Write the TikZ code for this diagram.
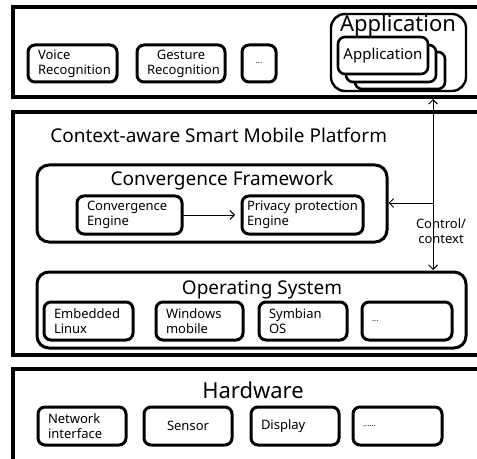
\documentclass[tikz,border=0pt]{standalone}
\usepackage{fontspec}
\setmainfont{Noto Sans}
\usepackage{tikz}
\usetikzlibrary{arrows.meta}

\newcommand{\boxfont}{\fontsize{13bp}{15bp}\selectfont}
\newcommand{\dotsfont}{\fontsize{8bp}{10bp}\selectfont}
\newcommand{\headfont}{\fontsize{19bp}{23bp}\selectfont}
\newcommand{\bigfont}{\fontsize{22bp}{26bp}\selectfont}
\newcommand{\cardfont}{\fontsize{15bp}{18bp}\selectfont}

\begin{document}
\begin{tikzpicture}[x=1bp,y=-1bp,
    every node/.style={outer sep=0pt},
    >={Straight Barb[length=4.5bp,width=9bp]},
    layer/.style={draw,line width=3.4bp,anchor=north west,minimum width=490bp},
    frame/.style={draw,line width=3bp,rounded corners=12bp,anchor=north west},
    unit/.style={draw,line width=3bp,rounded corners=7bp,anchor=north west,
      inner xsep=10bp,inner ysep=0pt,minimum height=38bp,align=left,font=\boxfont},
    card/.style={draw,fill=white,line width=2.6bp,rounded corners=7bp,anchor=north west,
      inner sep=0pt,minimum width=90bp,minimum height=37bp,font=\cardfont},
    link/.style={line width=0.9bp}]
\useasboundingbox (0,0) rectangle (477,459);
\clip (0,0) rectangle (477,459);

% application layer
\node[layer,minimum height=90bp] (applayer) at (13,7) {};
\node[unit,text width=69bp,minimum height=37bp] (voice) at (28,45) {Voice\\Recognition};
\node[unit,text width=68bp,minimum height=37bp,align=center] (gesture) at (137,45) {Gesture\\Recognition};
\node[unit,text width=14bp,minimum height=37bp,align=center,font=\dotsfont] (appdots) at (242,45) {...};
\node[frame,line width=2.4bp,rounded corners=14bp,minimum width=135bp,minimum height=77bp] (app) at (331,14) {};
\node[anchor=base,font=\bigfont] (apptitle) at (398,32) {Application};
\foreach \n/\x/\y in {3/355/52,2/346/45}
  \node[card] (card\n) at (\x,\y) {};
\node[card] (card1) at (338,37) {Application};

% platform layer
\node[layer,minimum height=243bp] (platform) at (13,112) {};
\node[anchor=base west,font=\headfont] (platformtitle) at (47,143) {Context-aware Smart Mobile Platform};

\node[frame,minimum width=350bp,minimum height=77bp] (cf) at (37,165) {};
\node[anchor=base,font=\headfont] (cftitle) at (222,186) {Convergence Framework};
\node[unit,text width=85bp] (ceng) at (77,196) {Convergence\\Engine};
\node[unit,text width=111bp,inner xsep=5bp] (peng) at (242,196) {Privacy protection\\Engine};
\draw[link,->,shorten >=7bp] (ceng) -- (peng);

\node[frame,minimum width=429bp,minimum height=76bp] (os) at (37,272) {};
\node[anchor=base,font=\headfont] (ostitle) at (262,294) {Operating System};
\node[unit,text width=69bp] (linux) at (44,302) {Embedded\\Linux};
\node[unit,text width=67bp] (winmob) at (156,302) {Windows\\mobile};
\node[unit,text width=68bp] (symbian) at (259,302) {Symbian\\OS};
\node[unit,text width=70bp,font=\dotsfont] (osdots) at (362,302) {...};

% control / context
\coordinate (ctrl) at (433,203);
\draw[link,<->,shorten <=2bp,shorten >=2bp] (applayer.south -| ctrl) -- (os.north -| ctrl);
\draw[link,->,shorten >=1.5bp] (ctrl) -- (cf.east |- ctrl);
\node[align=center,font=\boxfont] (ctrllabel) at (441,231) {Control/\\context};

% hardware layer
\node[layer,minimum height=110bp] (hw) at (13,369) {};
\node[anchor=base,font=\bigfont] (hwtitle) at (253,398) {Hardware};
\node[unit,text width=68bp] (net) at (38,407) {Network\\interface};
\node[unit,text width=68bp,align=center] (sensor) at (144,407) {Sensor};
\node[unit,text width=68bp] (display) at (251,407) {Display};
\node[unit,text width=69bp,font=\dotsfont] (hwdots) at (353,407) {......};
\end{tikzpicture}
\end{document}
